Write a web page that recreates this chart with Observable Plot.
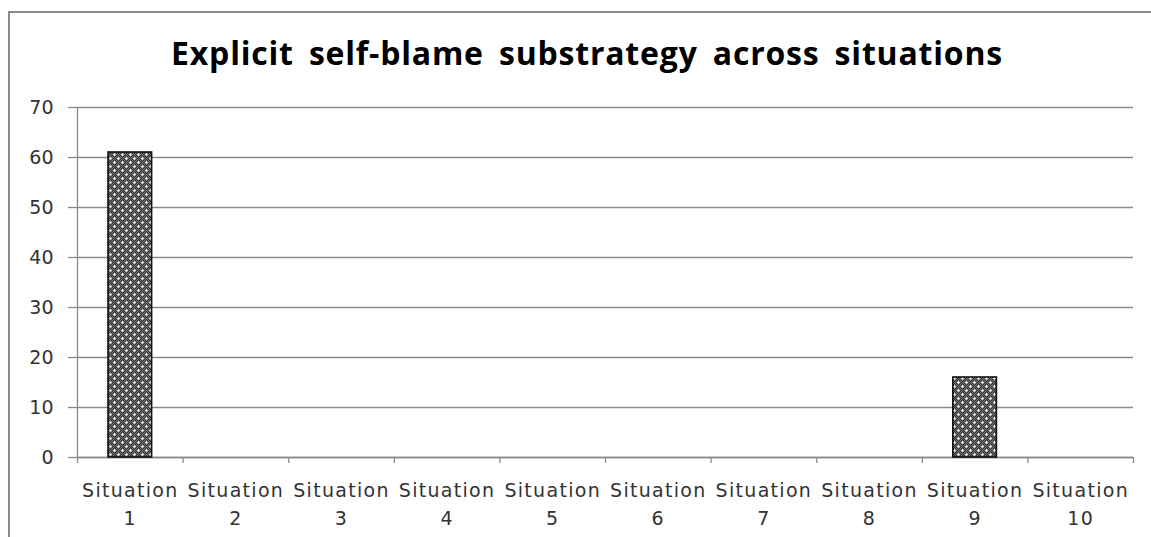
<!DOCTYPE html>
<html>
<head>
<meta charset="utf-8">
<script src="https://cdn.jsdelivr.net/npm/d3@7"></script>
<script src="https://cdn.jsdelivr.net/npm/@observablehq/plot@0.6"></script>
<style>
  html, body { margin: 0; padding: 0; background: #fff; }
  #wrap { position: relative; width: 1151px; height: 537px; overflow: hidden; }
  #frame { position: absolute; left: 8px; top: 11px; right: -10px; bottom: -10px;
           border-left: 2px solid #8a8a8a; border-top: 2px solid #8a8a8a; }
  #title { position: absolute; left: 587px; top: 37px; transform: translateX(-50%);
           white-space: nowrap; font-family: "Open Sans", sans-serif; font-weight: 700;
           font-size: 32px; letter-spacing: 0.8px; word-spacing: 6px; line-height: 1; color: #000; }
  #chart { position: absolute; left: 0; top: 0; }
  #chart svg g[aria-label="x-axis tick label"] text { letter-spacing: 1.3px; }
</style>
</head>
<body>
<div id="wrap">
  <div id="frame"></div>
  <div id="chart"></div>
  <div id="title"></div>
</div>
<script>
const title = "Explicit self-blame substrategy across situations";
const categories = ["Situation 1", "Situation 2", "Situation 3", "Situation 4", "Situation 5",
                    "Situation 6", "Situation 7", "Situation 8", "Situation 9", "Situation 10"];
const values = [61, 0, 0, 0, 0, 0, 0, 0, 16, 0];
const yTicks = [0, 10, 20, 30, 40, 50, 60, 70];

const data = categories.map((c, i) => ({c, i, v: values[i]}));
const centers = data.map(d => d.i + 0.5);
const bounds = d3.range(categories.length + 1);

document.getElementById("title").textContent = title;

const svg = Plot.plot({
  width: 1151,
  height: 537,
  marginTop: 107,
  marginLeft: 77,
  marginRight: 18,
  marginBottom: 80,
  style: {fontFamily: "'DejaVu Sans', Verdana, sans-serif", fontSize: "19px", color: "#333", background: "transparent", overflow: "visible"},
  x: {type: "linear", domain: [0, categories.length]},
  y: {domain: [0, 70]},
  marks: [
    Plot.gridY(yTicks, {stroke: "#8a8a8a", strokeOpacity: 1, strokeWidth: 1.3}),
    Plot.axisY(yTicks, {tickSize: 9, tickPadding: 15, stroke: "#8a8a8a", strokeWidth: 1.3, label: null}),
    Plot.ruleX([0], {stroke: "#8a8a8a", strokeWidth: 1.3}),
    Plot.ruleY([0], {stroke: "#8a8a8a", strokeWidth: 1.3}),
    Plot.axisX(bounds, {tickSize: 6, tickFormat: () => "", stroke: "#8a8a8a", strokeWidth: 1.3, label: null}),
    Plot.axisX(centers, {tickSize: 0, tickPadding: 19, lineHeight: 1.5, label: null,
      tickFormat: v => categories[Math.floor(v)].replace(" ", "\n")}),
    Plot.rectY(data, {filter: d => d.v > 0, x1: "i", x2: d => d.i + 1, y: "v",
      insetLeft: 31, insetRight: 31, fill: "url(#hatch)", stroke: "#111", strokeWidth: 1.6})
  ]
});

svg.insertAdjacentHTML("afterbegin", `
<defs>
  <pattern id="checker" width="2" height="2" patternUnits="userSpaceOnUse">
    <rect width="2" height="2" fill="#2c2c2c"/>
    <rect x="0" y="0" width="1" height="1" fill="#7c7c7c"/>
    <rect x="1" y="1" width="1" height="1" fill="#7c7c7c"/>
  </pattern>
  <pattern id="hatch" width="8" height="8" patternUnits="userSpaceOnUse">
    <rect width="8" height="8" fill="url(#checker)"/>
    <rect x="1" y="2" width="3" height="1" fill="#d0d0d0"/>
    <rect x="2" y="1" width="1" height="3" fill="#d0d0d0"/>
    <rect x="2" y="2" width="1" height="1" fill="#ffffff"/>
    <rect x="5" y="6" width="3" height="1" fill="#d0d0d0"/>
    <rect x="6" y="5" width="1" height="3" fill="#d0d0d0"/>
    <rect x="6" y="6" width="1" height="1" fill="#ffffff"/>
  </pattern>
</defs>`);

document.getElementById("chart").appendChild(svg);
</script>
</body>
</html>
